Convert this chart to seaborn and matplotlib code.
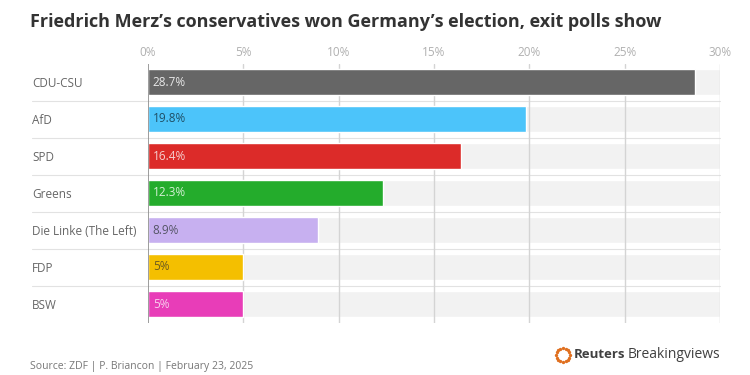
import matplotlib
matplotlib.use("Agg")
import matplotlib.pyplot as plt
import matplotlib.transforms as mtransforms
import seaborn as sns
import pandas as pd
import numpy as np

parties = ["CDU-CSU", "AfD", "SPD", "Greens", "Die Linke (The Left)", "FDP", "BSW"]
shares = [28.7, 19.8, 16.4, 12.3, 8.9, 5.0, 5.0]
value_labels = ["28.7%", "19.8%", "16.4%", "12.3%", "8.9%", "5%", "5%"]
colors = ["#666666", "#4cc4fa", "#dc2b29", "#24ac2c", "#c7b0f0", "#f4bf00", "#e83db8"]
label_colors = ["#e8e8e8", "#1f4f66", "#f5d0d0", "#d5f0d5", "#555566", "#6b5a20", "#f8d0ee"]
xticks = [0, 5, 10, 15, 20, 25, 30]
xtick_labels = ["0%", "5%", "10%", "15%", "20%", "25%", "30%"]
axis_max = 30

sns.set_theme(style="white")
plt.rcParams["font.family"] = ["Open Sans", "DejaVu Sans"]

df = pd.DataFrame({"party": parties, "share": shares})
track = pd.DataFrame({"party": parties, "share": [axis_max] * len(parties)})

fig = plt.figure(figsize=(7.5, 3.75), dpi=100)
W, H = 750, 375
ax = fig.add_axes([148 / W, 1 - 322.5 / H, (720 - 148) / W, (322.5 - 63.5) / H])

sns.barplot(data=track, x="share", y="party", color="#f2f2f2", width=0.7,
            ax=ax, zorder=1, saturation=1)
sns.barplot(data=df, x="share", y="party", hue="party", palette=colors,
            width=0.7, ax=ax, zorder=3, saturation=1, legend=False)

ax.set_xlim(0, axis_max)
ax.set_ylim(len(parties) - 0.5, -0.5)
for x in xticks[1:]:
    ax.axvline(x, color="#d4d4d4", lw=1, zorder=2)
ax.axvline(0, color="#8c8c8c", lw=1.2, zorder=4)

ax.xaxis.tick_top()
ax.set_xticks(xticks)
ax.set_xticklabels(xtick_labels)
ax.tick_params(axis="x", length=0, pad=3, labelsize=8.5, labelcolor="#b0b0b0")
ax.tick_params(axis="y", length=0, pad=83.5, labelsize=8.5, labelcolor="#666666")
for lbl in ax.get_yticklabels():
    lbl.set_ha("left")
ax.set_xlabel("")
ax.set_ylabel("")
for s in ax.spines.values():
    s.set_visible(False)

# row separators extending to the labels
trans = mtransforms.blended_transform_factory(fig.transFigure, ax.transData)
for i in range(len(parties) - 1):
    ax.plot([32 / W, 720 / W], [i + 0.5, i + 0.5], transform=trans, color="#e2e2e2",
            lw=0.8, clip_on=False, zorder=0)

for i, (v, lab, c) in enumerate(zip(shares, value_labels, label_colors)):
    ax.text(0.25, i, lab, va="center", ha="left", fontsize=8.5, color=c, zorder=5)

fig.text(30 / W, 1 - 22 / H, "Friedrich Merz\u2019s conservatives won Germany\u2019s election, exit polls show",
         fontsize=13, fontweight="bold", color="#333333", va="center", ha="left")
fig.text(30 / W, 1 - 367 / H, "Source: ZDF | P. Briancon | February 23, 2025",
         fontsize=7.5, color="#777777", va="center", ha="left")

# logo text
fig.text(574 / W, 1 - 355 / H, "Reuters", fontsize=9.5, fontweight="bold", color="#404040",
         va="center", ha="left")
fig.text(628 / W, 1 - 355 / H, "Breakingviews", fontsize=10, color="#404040",
         va="center", ha="left")
ang = np.linspace(0, 2 * np.pi, 16, endpoint=False)
fig.lines.append(plt.Line2D((563 + 7 * np.cos(ang)) / W, (375 - 355 + 7 * np.sin(ang)) / H,
                            transform=fig.transFigure, ls="none", marker="o", ms=1.4,
                            color="#e07020"))

fig.savefig("out.png", dpi=100, facecolor="white")
